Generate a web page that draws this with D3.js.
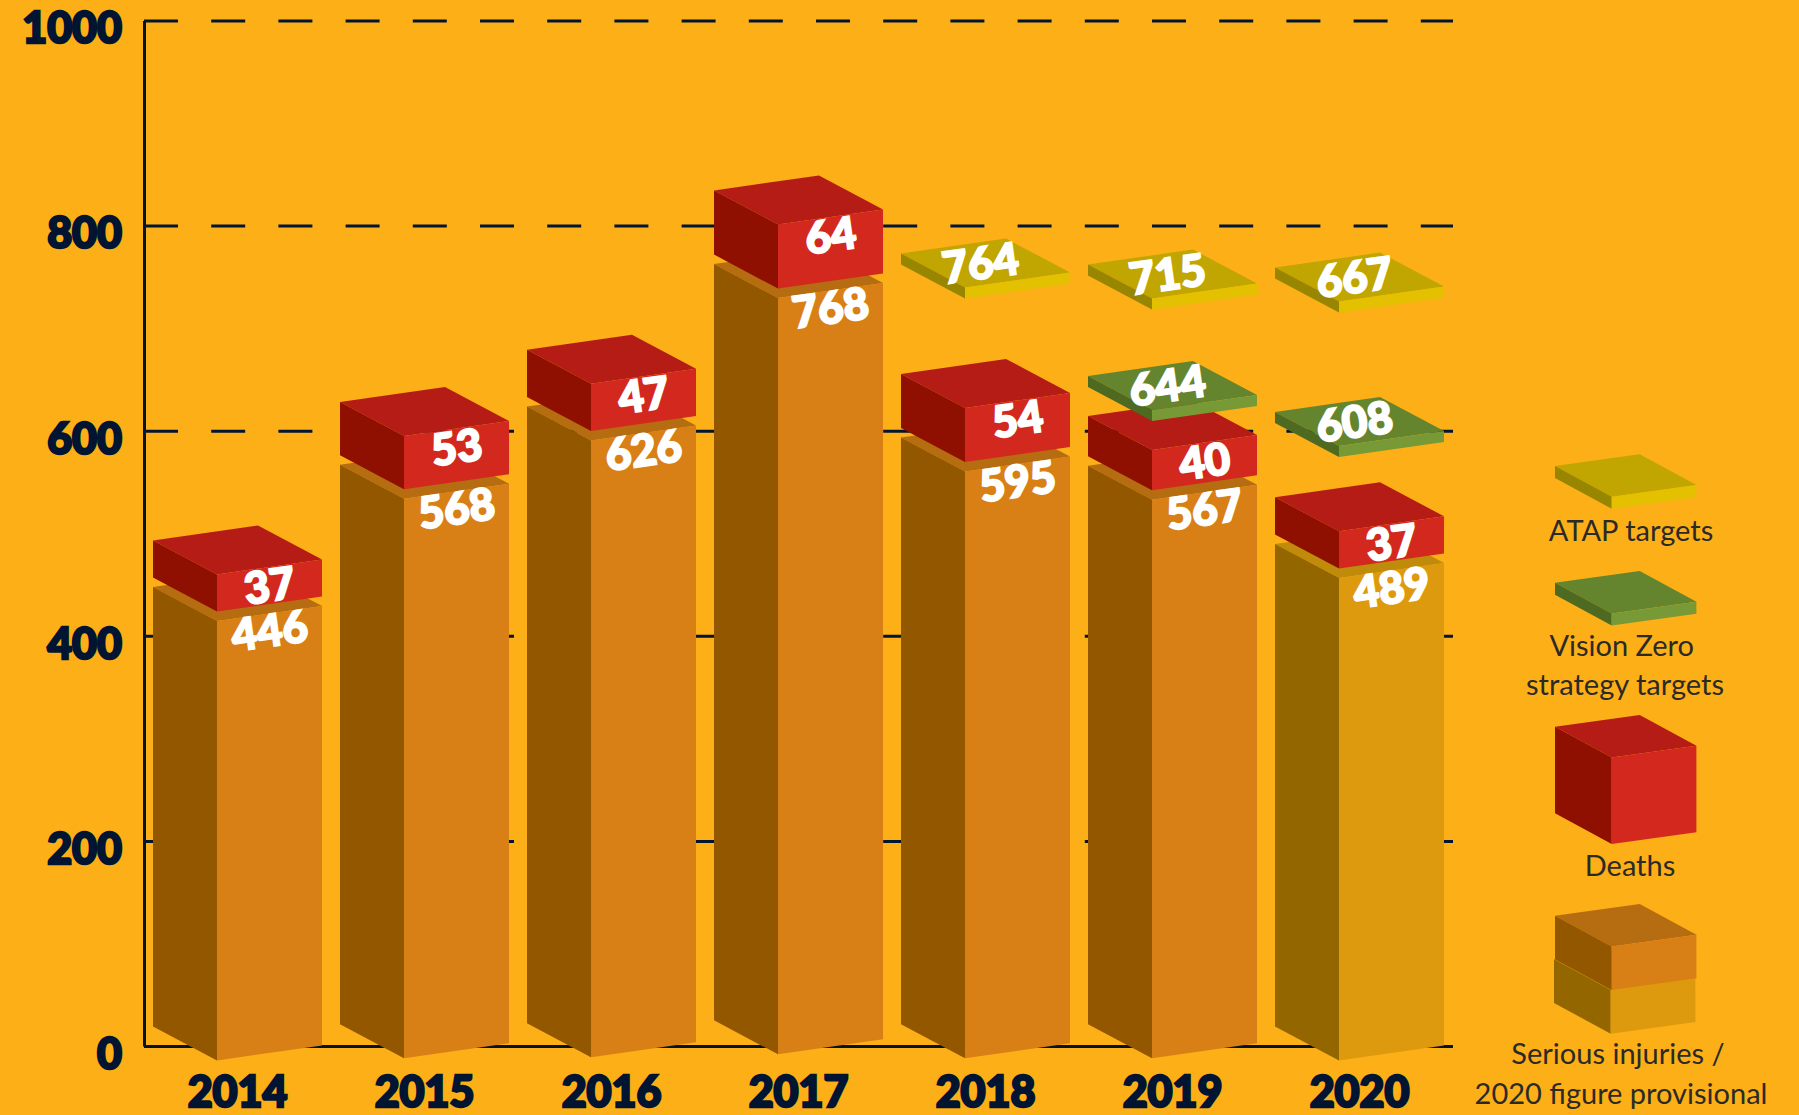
<!DOCTYPE html>
<html>
<head>
<meta charset="utf-8">
<script src="https://cdn.jsdelivr.net/npm/d3@7"></script>
<style>
  html, body { margin: 0; padding: 0; background: #fcaf17; }
  svg { display: block; }
  .axis text { font-family: Lato, sans-serif; font-weight: 900; font-size: 43px; fill: #011432; stroke: #011432; stroke-width: 2.4px; }
  .axis line, .axis path { stroke: #011432; stroke-width: 3px; fill: none; }
  .value { font-family: Lato, sans-serif; font-weight: 900; font-size: 44px; fill: #fff; stroke: #fff; stroke-width: 2px; text-anchor: middle; }
  .legend-text { font-family: Lato, sans-serif; font-weight: 400; font-size: 29px; fill: #2b2a29; text-anchor: middle; }
</style>
</head>
<body>
<svg id="chart" width="1799" height="1115"></svg>
<script>
const years = ['2014', '2015', '2016', '2017', '2018', '2019', '2020'];
const seriousInjuries = [446, 568, 626, 768, 595, 567, 489];
const deaths = [37, 53, 47, 64, 54, 40, 37];
const yTicks = [0, 200, 400, 600, 800, 1000];

const targetYears = ['2018', '2019', '2020'];
const atapTargets = [764, 715, 667];
const visionYears = ['2019', '2020'];
const visionTargets = [644, 608];

// the ATAP plates in the original don't sit at their printed value,
// so these are the levels they are actually drawn at
const atapDrawnLevels = [766, 755, 752];
// foot of each column, the original is not quite level
const barFoot = [8, 10, 11, 14, 10, 10, 8];

const orange = {top: '#b66c10', side: '#935700', front: '#d87f16'};
const provisional = {top: '#c08a0a', side: '#936600', front: '#de9a0e'};
const red = {top: '#b51c15', side: '#8f0f00', front: '#d2281e'};
const atap = {top: '#c1a500', side: '#988500', front: '#e3c100'};
const vision = {top: '#64842e', side: '#4d6a20', front: '#789a36'};

const svg = d3.select('#chart');

// scales
const axisY = d3.scaleLinear().domain([0, 1000]).range([1046, 20.5]);
// the 3d tops run on a slightly different line than the axis
const levelY = d3.scaleLinear().domain([0, 1000]).range([1034.4, 31.4]);
const x = d3.scaleBand().domain(years).range([153, 1444]).paddingInner(18 / 187);

const barGeom = {dx1: 64, dy1: 34, dx2: 105, dy2: -15};
const legendGeom = {dx1: 56.7, dy1: 30.7, dx2: 84.7, dy2: -11.7};
const deathGap = 9.5;
const plateLift = 12.5;
const plateThickness = 11;

// three faces of a box, x/y is the left corner of the top face
function faces(b) {
  const g = b.geom, h = b.h;
  const fx = b.x + g.dx1, fy = b.y + g.dy1;
  const rx = fx + g.dx2, ry = fy + g.dy2;
  return [
    {fill: b.colors.top, pts: [[b.x, b.y], [b.x + g.dx2, b.y + g.dy2], [rx, ry], [fx, fy]]},
    {fill: b.colors.side, pts: [[b.x, b.y], [fx, fy], [fx, fy + h], [b.x, b.y + h]]},
    {fill: b.colors.front, pts: [[fx, fy], [rx, ry], [rx, ry + h], [fx, fy + h]]}
  ];
}

function drawBoxes(parent, boxes) {
  parent.append('g').selectAll('polygon')
    .data(boxes.flatMap(faces))
    .join('polygon')
      .attr('fill', d => d.fill)
      .attr('points', d => d.pts.join(' '));
}

// axes go in first so the columns cover them
const yAxisG = svg.append('g')
    .attr('class', 'axis')
    .attr('transform', `translate(144,0)`)
    .call(d3.axisLeft(axisY).tickValues(yTicks).tickFormat(d3.format('d')).tickSize(-1309).tickSizeOuter(0).tickPadding(22));
yAxisG.selectAll('.tick line').attr('stroke-dasharray', d => d === 0 ? null : '34 33.2');
yAxisG.selectAll('.tick text').attr('dy', '0.52em');

const xAxisG = svg.append('g')
    .attr('class', 'axis')
    .attr('transform', `translate(0,1046)`)
    .call(d3.axisBottom(x).tickSize(0).tickPadding(0));
xAxisG.select('.domain').remove();
xAxisG.selectAll('.tick text').attr('dy', '61px').attr('y', 0);

// columns
const injuryBoxes = years.map((yr, i) => ({
  x: x(yr),
  y: levelY(seriousInjuries[i]),
  h: levelY(barFoot[i]) - levelY(seriousInjuries[i]),
  geom: barGeom,
  colors: yr === '2020' ? provisional : orange
}));
const deathBoxes = years.map((yr, i) => {
  const base = seriousInjuries[i] + deathGap;
  return {
    x: x(yr),
    y: levelY(base + deaths[i]),
    h: levelY(base) - levelY(base + deaths[i]),
    geom: barGeom,
    colors: red
  };
});
function plate(yr, level, colors) {
  return {
    x: x(yr),
    y: levelY(level + plateLift),
    h: plateThickness,
    geom: barGeom,
    colors: colors
  };
}
const visionBoxes = visionYears.map((yr, i) => plate(yr, visionTargets[i], vision));
const atapBoxes = targetYears.map((yr, i) => plate(yr, atapDrawnLevels[i], atap));

const marks = svg.append('g');
drawBoxes(marks, injuryBoxes);
drawBoxes(marks, deathBoxes);
drawBoxes(marks, visionBoxes);
drawBoxes(marks, atapBoxes);

// value labels, tilted with the front face
function addLabels(rows) {
  svg.append('g').selectAll('text')
    .data(rows)
    .join('text')
      .attr('class', 'value')
      .attr('dy', '0.36em')
      .attr('transform', d => `translate(${d.cx},${d.cy}) rotate(-8)`)
      .text(d => d.label);
}
const frontMid = b => b.x + b.geom.dx1 + b.geom.dx2 / 2;
const frontTop = b => b.y + b.geom.dy1 + b.geom.dy2 / 2;

addLabels(injuryBoxes.map((b, i) => ({cx: frontMid(b), cy: frontTop(b) + 17, label: seriousInjuries[i]})));
addLabels(deathBoxes.map((b, i) => ({cx: frontMid(b), cy: frontTop(b) + 18.5, label: deaths[i]})));
const plateRows = (boxes, vals) => boxes.map((b, i) => ({
  cx: b.x + (b.geom.dx1 + b.geom.dx2) / 2 - 5,
  cy: b.y + (b.geom.dy1 + b.geom.dy2) / 2,
  label: vals[i]
}));
addLabels(plateRows(visionBoxes, visionTargets));
addLabels(plateRows(atapBoxes, atapTargets));

// legend
const legend = svg.append('g');
drawBoxes(legend, [
  {x: 1555, y: 466, h: 12, geom: legendGeom, colors: atap},
  {x: 1555, y: 582.7, h: 12, geom: legendGeom, colors: vision},
  {x: 1555, y: 726.7, h: 86.5, geom: legendGeom, colors: red},
  {x: 1554, y: 959.3, h: 43.7, geom: legendGeom, colors: provisional},
  {x: 1555, y: 915.7, h: 43.6, geom: legendGeom, colors: orange}
]);

const legendLines = [
  ['ATAP targets', 1631, 540.7],
  ['Vision Zero', 1621.7, 656],
  ['strategy targets', 1625, 695],
  ['Deaths', 1630, 875.7],
  ['Serious injuries /', 1618, 1064],
  ['2020 figure provisional', 1621, 1104]
];
legend.selectAll('text')
  .data(legendLines)
  .join('text')
    .attr('class', 'legend-text')
    .attr('x', d => d[1])
    .attr('y', d => d[2])
    .text(d => d[0]);
</script>
</body>
</html>
